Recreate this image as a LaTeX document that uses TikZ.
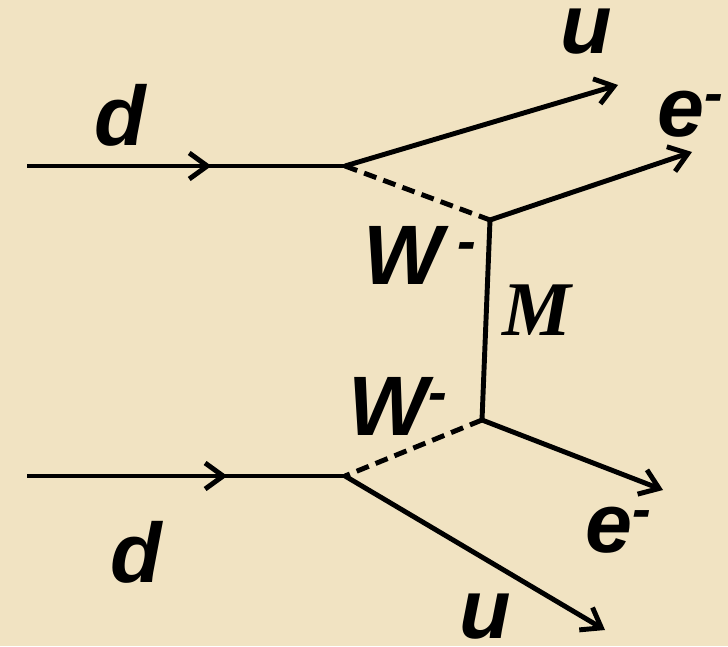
\documentclass[tikz,border=0pt]{standalone}
\usepackage{fontspec}
\setmainfont{Liberation Sans}
\newfontfamily\serifbi{Liberation Serif}
\usepackage{tikz}
\usetikzlibrary{arrows.meta,positioning,calc,decorations.markings}
\definecolor{NuParch}{RGB}{241,227,194}
\definecolor{NuInk}{RGB}{0,0,0}
\newcommand{\minussup}{\raisebox{0.28em}{\fontsize{16}{16}\selectfont -}}
\tikzset{
  nu/line/.style={draw=NuInk, line width=1.4pt},
  nu/out/.style={draw=NuInk, line width=1.4pt, -{Straight Barb[length=1.8mm,width=2.6mm,line width=1.4pt]}},
  nu/in/.style={
    draw=NuInk,
    line width=1.4pt,
    postaction={decorate},
    decoration={markings, mark=at position #1 with {\arrow{Straight Barb[length=1.8mm,width=2.6mm,line width=1.4pt]}}}
  },
  nu/boson/.style={draw=NuInk, line width=1.4pt, dash pattern=on 3.7pt off 2.1pt},
  nu/label/.style={font=\fontsize{24}{28}\selectfont\bfseries\itshape, text=NuInk, inner sep=0pt},
  nu/mass/.style={font=\fontsize{22}{26}\selectfont\serifbi\bfseries\itshape, text=NuInk, inner sep=0pt}
}

\begin{document}
\begin{tikzpicture}[x=0.01cm,y=-0.01cm]
  \fill[NuParch] (0,0) rectangle (728,646);
  \useasboundingbox (0,0) rectangle (728,646);
  % vertices
  \coordinate (dinA) at (27,166);
  \coordinate (vA) at (345,166);
  \coordinate (vB) at (490,220);
  \coordinate (vC) at (482,420);
  \coordinate (vD) at (345,476);
  \coordinate (dinB) at (27,476);
  \coordinate (uoutA) at (618,85);
  \coordinate (eoutA) at (692,152);
  \coordinate (eoutB) at (663,490);
  \coordinate (uoutB) at (605,630);
  % quark lines
  \draw[nu/in=0.58] (dinA) -- (vA);
  \draw[nu/in=0.63] (dinB) -- (vD);
  \draw[nu/out] (vA) -- (uoutA);
  \draw[nu/out] (vD) -- (uoutB);
  % W bosons and neutrino line
  \draw[nu/boson] (vA) -- (vB);
  \draw[nu/boson] (vC) -- (vD);
  \draw[nu/line] (vB) -- (vC);
  % electrons
  \draw[nu/out] (vB) -- (eoutA);
  \draw[nu/out] (vC) -- (eoutB);
  % labels
  \node[nu/label] (ldA) at (120,115) {d};
  \node[nu/label] (luA) at (586,32) {u};
  \node[nu/label] (leA) at (690,114) {e\minussup};
  \node[nu/label] (lwA) at (420,255) {W\,\minussup};
  \node[nu/mass] (lm) at (537,310) {M};
  \node[nu/label] (lwB) at (398,406) {W\minussup};
  \node[nu/label] (ldB) at (136,552) {d};
  \node[nu/label] (leB) at (618,530) {e\minussup};
  \node[nu/label] (luB) at (485,617) {u};
\end{tikzpicture}
\end{document}
